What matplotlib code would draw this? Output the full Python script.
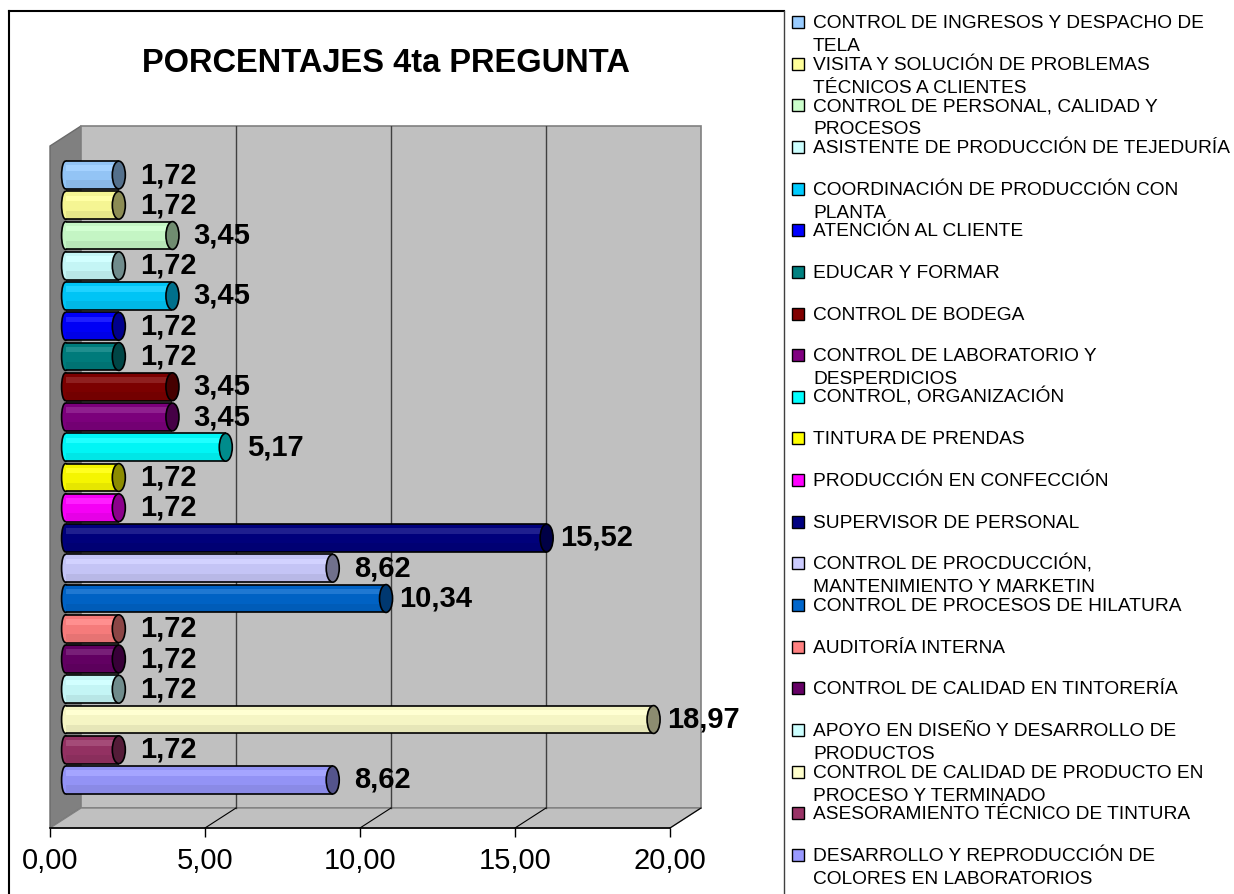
import matplotlib
matplotlib.use('Agg')
import matplotlib.pyplot as plt
from matplotlib.patches import Polygon, Ellipse, Rectangle
from matplotlib.lines import Line2D
from matplotlib.colors import to_rgb
import numpy as np

plt.rcParams['font.family'] = ['Liberation Sans', 'DejaVu Sans']

# ---------------- data ----------------
title = 'PORCENTAJES 4ta PREGUNTA'
categories = [
    'CONTROL DE INGRESOS Y DESPACHO DE\nTELA',
    'VISITA Y SOLUCIÓN DE PROBLEMAS\nTÉCNICOS A CLIENTES',
    'CONTROL DE PERSONAL, CALIDAD Y\nPROCESOS',
    'ASISTENTE DE PRODUCCIÓN DE TEJEDURÍA',
    'COORDINACIÓN DE PRODUCCIÓN CON\nPLANTA',
    'ATENCIÓN AL CLIENTE',
    'EDUCAR Y FORMAR',
    'CONTROL DE BODEGA',
    'CONTROL DE LABORATORIO Y\nDESPERDICIOS',
    'CONTROL, ORGANIZACIÓN',
    'TINTURA DE PRENDAS',
    'PRODUCCIÓN EN CONFECCIÓN',
    'SUPERVISOR DE PERSONAL',
    'CONTROL DE PROCDUCCIÓN,\nMANTENIMIENTO Y MARKETIN',
    'CONTROL DE PROCESOS DE HILATURA',
    'AUDITORÍA INTERNA',
    'CONTROL DE CALIDAD EN TINTORERÍA',
    'APOYO EN DISEÑO Y DESARROLLO DE\nPRODUCTOS',
    'CONTROL DE CALIDAD DE PRODUCTO EN\nPROCESO Y TERMINADO',
    'ASESORAMIENTO TÉCNICO DE TINTURA',
    'DESARROLLO Y REPRODUCCIÓN DE\nCOLORES EN LABORATORIOS',
]
values = [1.72, 1.72, 3.45, 1.72, 3.45, 1.72, 1.72, 3.45, 3.45, 5.17, 1.72,
          1.72, 15.52, 8.62, 10.34, 1.72, 1.72, 1.72, 18.97, 1.72, 8.62]
colors = ['#99CCFF', '#FFFF99', '#CCFFCC', '#CCFFFF', '#00CCFF', '#0000FF',
          '#008080', '#800000', '#800080', '#00FFFF', '#FFFF00', '#FF00FF',
          '#000080', '#CCCCFF', '#0066CC', '#FF8080', '#660066', '#CCFFFF',
          '#FFFFCC', '#993366', '#9999FF']
xticks = [0, 5, 10, 15, 20]
xticklabels = ['0,00', '5,00', '10,00', '15,00', '20,00']

# ---------------- layout ----------------
W, H = 1234, 894
fig = plt.figure(figsize=(W / 100, H / 100), dpi=100)
fig.patch.set_facecolor('white')


def fx(px):
    return px / W


def fy(py):
    return 1 - py / H


ax = fig.add_axes([fx(50), fy(828), (700 - 50) / W, (828 - 126) / H])
ax.set_facecolor('none')
n = len(values)
pitch_px = 30.25
ymin = -(828 - 780) / pitch_px
ymax = ymin + (828 - 126) / pitch_px
ax.set_xlim(0, 650 / 31)
ax.set_ylim(ymin, ymax)
dX = 1.0
dY = 20 / pitch_px
xmax_scale = xticks[-1]

# walls
ax.add_patch(Polygon([(0, ymin), (dX, ymin + dY), (dX, ymax), (0, ymax - dY)],
                     closed=True, fc='#808080', ec='#6a6a6a', lw=1, zorder=1, clip_on=False))
ax.add_patch(Rectangle((dX, ymin + dY), xmax_scale, ymax - ymin - dY,
                       fc='#C0C0C0', ec='#808080', lw=1.2, zorder=1, clip_on=False))
ax.add_patch(Polygon([(0, ymin), (xmax_scale, ymin), (xmax_scale + dX, ymin + dY), (dX, ymin + dY)],
                     closed=True, fc='#C0C0C0', ec='#808080', lw=1, zorder=1.5, clip_on=False))
for xt in xticks[1:-1]:
    ax.plot([xt + dX, xt + dX], [ymin + dY, ymax], color='#404040', lw=1, zorder=2)
for xt in xticks[1:]:
    ax.plot([xt, xt + dX], [ymin, ymin + dY], color='black', lw=0.8, zorder=2, clip_on=False)
ax.plot([0, xmax_scale], [ymin, ymin], color='black', lw=1.2, zorder=2, clip_on=False)


def mix(c, other, t):
    c = np.array(to_rgb(c))
    o = np.array(to_rgb(other))
    return tuple(c * (1 - t) + o * t)


# bars (cylinders)
x0 = dX / 2
h = 0.92
ew = 0.42
ypos = np.array([n - 1 - i for i in range(n)], dtype=float)
body = [mix(c, 'black', 0.04) for c in colors]
light = [mix(c, 'white', 0.12) for c in colors]
darkb = [mix(c, 'black', 0.10) for c in colors]
capc = [mix(c, 'black', 0.45) for c in colors]

for y, v, c in zip(ypos, values, body):
    ax.add_patch(Ellipse((x0, y), ew * 0.6, h, fc=c, ec='black', lw=1.2, zorder=3))
ax.barh(ypos, values, left=x0, height=h, color=body, edgecolor='none', zorder=4)
ax.barh(ypos + h * 0.25, values, left=x0, height=h * 0.2, color=light, edgecolor='none', zorder=4.2)
ax.barh(ypos - h * 0.34, values, left=x0, height=h * 0.3, color=darkb, edgecolor='none', zorder=4.2)
ax.hlines(ypos + h / 2, x0, x0 + np.array(values), color='black', lw=1.2, zorder=5)
ax.hlines(ypos - h / 2, x0, x0 + np.array(values), color='black', lw=1.2, zorder=5)
for y, v, c in zip(ypos, values, capc):
    ax.add_patch(Ellipse((x0 + v, y), ew, h, fc=c, ec='black', lw=1.2, zorder=6))
    ax.text(x0 + v + 1.6, y, f'{v:.2f}'.replace('.', ','), ha='center', va='center',
            fontsize=21, fontweight='bold', color='black', zorder=7)

# axis
ax.set_xticks(xticks)
ax.set_xticklabels(xticklabels)
ax.set_yticks([])
for s in ax.spines.values():
    s.set_visible(False)
ax.tick_params(axis='x', length=6.5, width=1, color='black', pad=7, labelsize=21)

# title
fig.text(fx(386), fy(64), title, ha='center', va='center', fontsize=23.5, fontweight='bold')

# legend
for i, (lab, col) in enumerate(zip(categories, colors)):
    base = 28 + 41.65 * i
    fig.patches.append(Rectangle((fx(792), fy(base)), 12 / W, 12 / H, transform=fig.transFigure,
                                 fc=col, ec='black', lw=1, figure=fig))
    for k, line in enumerate(lab.split('\n')):
        fig.text(fx(813), fy(base + 23 * k), line, ha='left', va='baseline', fontsize=13.8)

# frame
fig.add_artist(Line2D([fx(9), fx(784)], [fy(11), fy(11)], transform=fig.transFigure,
                      color='black', lw=1.5))
fig.add_artist(Line2D([fx(9), fx(9)], [fy(11), fy(894)], transform=fig.transFigure,
                      color='black', lw=1.5))
fig.add_artist(Line2D([fx(784), fx(784)], [fy(11), fy(894)], transform=fig.transFigure,
                      color='#404040', lw=1.0))

fig.savefig('out.png', dpi=100)
